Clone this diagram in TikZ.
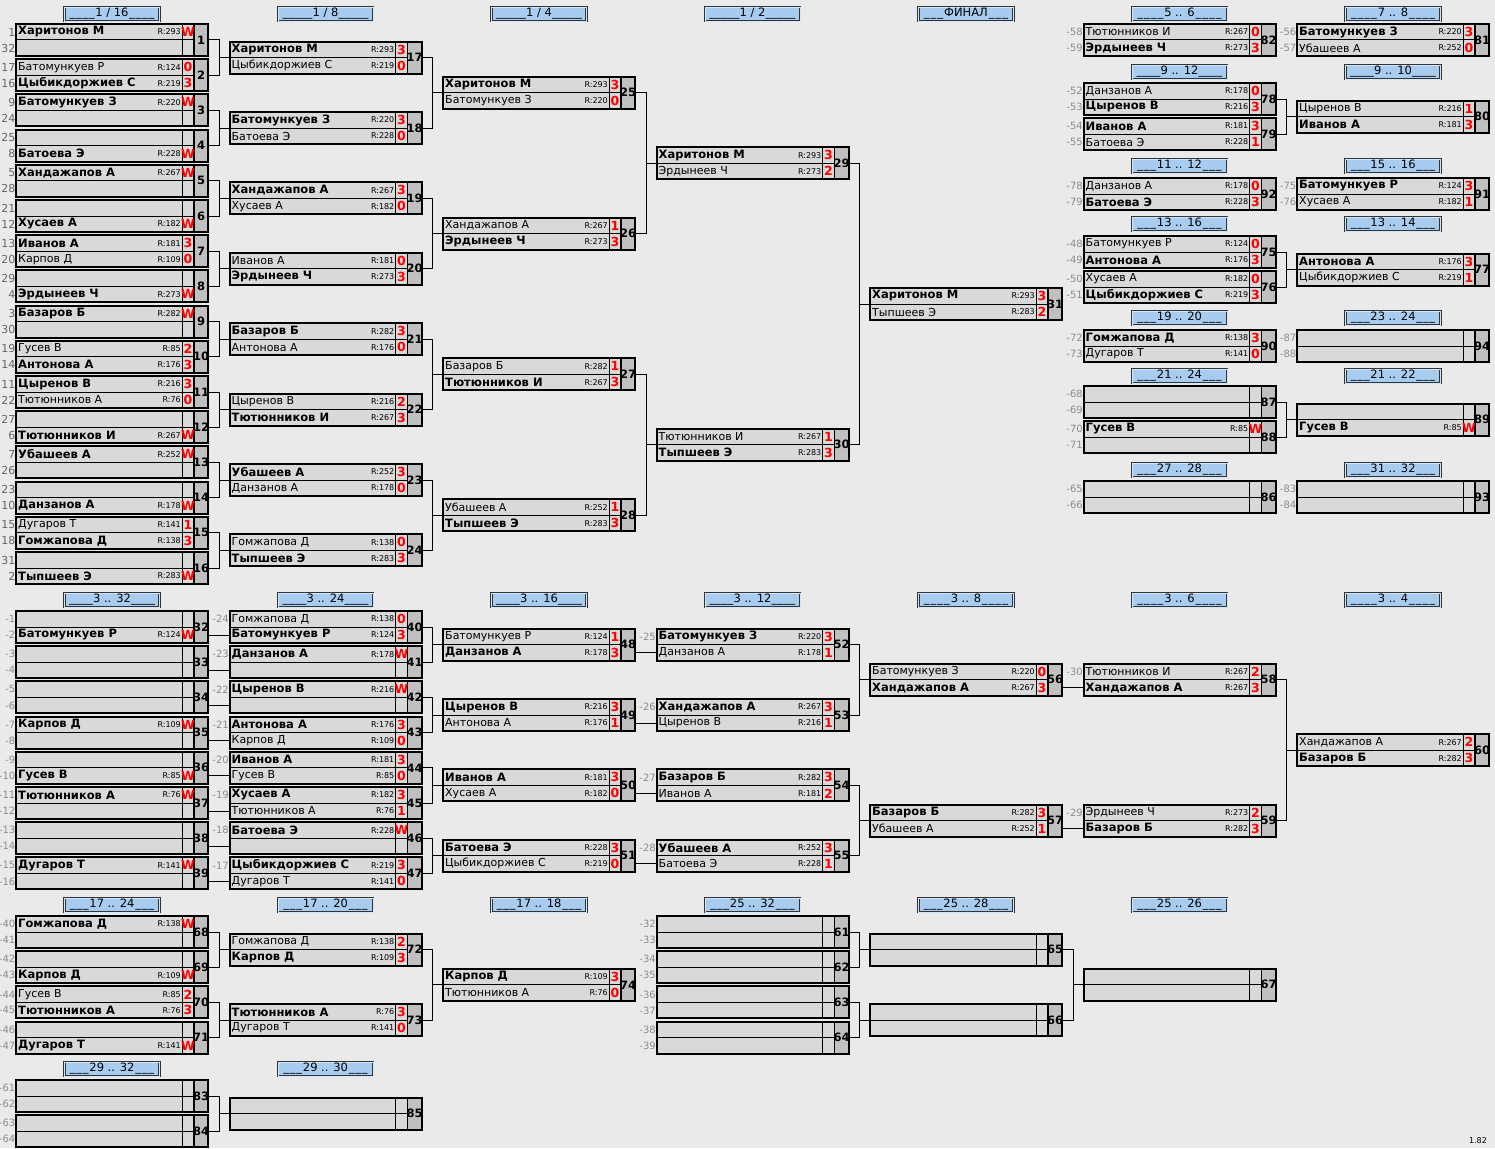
\documentclass[tikz,border=0pt]{standalone}
\usepackage{fontspec}
\setmainfont{DejaVu Sans}
\usepackage{tikz}

\definecolor{pagebg}{RGB}{234,234,234}
\definecolor{rowbg}{RGB}{217,217,217}
\definecolor{numbg}{RGB}{192,192,192}
\definecolor{headbg}{RGB}{168,204,240}

% one game box: name, left x, centre y, number
\newcommand{\duel}[4]{%
  \fill[rowbg] (#2,#3-16) rectangle ++(178,32);
  \fill[numbg] (#2+178,#3-16) rectangle ++(14,32);
  \draw[line width=1pt] (#2,#3) -- ++(178,0);
  \draw[line width=1pt] (#2+166,#3-16) -- ++(0,32);
  \draw[line width=1.6pt] (#2+178,#3-16) -- ++(0,32);
  \node[gamebox] (#1) at (#2+96,#3) {};
  \node[numlbl] (#1n) at (#2+185,#3) {#4};
  \coordinate (#1a) at (#2,#3-8);
  \coordinate (#1b) at (#2,#3+8);
}
% a player row: game, row, win/lose, name, rating, score
\newcommand{\player}[6]{%
  \node[pname,#3] (#1#2p) at ([xshift=2pt]#1#2) {#4};
  \node[prate] (#1#2r) at ([xshift=165pt]#1#2) {R:#5};
  \node[pscore] (#1#2s) at ([xshift=172pt]#1#2) {#6};
}
\newcommand{\seedno}[3]{\node[seedlbl] (#1#2l) at (#1#2) {#3};}
\newcommand{\seedsno}[3]{\seedno{#1}{a}{#2}\seedno{#1}{b}{#3}}
\newcommand{\stagehead}[4]{%
  \node[stagebox] (#1) at (#2,#3) {\makebox[86pt]{\xleaders\hbox{\_}\hfill#4\xleaders\hbox{\_}\hfill}};}
\newcommand{\joinpair}[3]{%
  \draw[link] (#1.east) -- ++(11,0) |- (#3.west);
  \draw[link] (#2.east) -- ++(11,0) |- (#3.west);}
\newcommand{\joinrow}[2]{\draw[link] (#1.east |- #2b) -- (#2b);}

\begin{document}
\begin{tikzpicture}[x=1pt,y=-1pt,
  gamebox/.style={draw,line width=2pt,minimum width=192pt,minimum height=32pt,inner sep=0pt,outer sep=0pt},
  numlbl/.style={inner sep=0pt,font=\bfseries\fontsize{11.5}{12}\selectfont},
  pname/.style={anchor=west,inner sep=0pt},
  win/.style={font=\bfseries\fontsize{11.5}{13}\selectfont},
  lose/.style={font=\fontsize{11}{13}\selectfont},
  prate/.style={anchor=east,inner sep=0pt,font=\fontsize{8}{9}\selectfont},
  pscore/.style={inner sep=0pt,text=red,font=\bfseries\fontsize{12.5}{13}\selectfont},
  seedlbl/.style={anchor=east,inner sep=0.5pt,text=black!45,font=\fontsize{10}{11}\selectfont},
  stagebox/.style={draw=black!80,double=headbg!50!white,double distance=0.8pt,line width=0.7pt,fill=headbg,
    minimum width=95pt,minimum height=14pt,inner sep=0pt,font=\fontsize{11.5}{12}\selectfont},
  link/.style={line width=1pt}]

  \fill[pagebg] (0,0) rectangle (1495,1148);
  \useasboundingbox (0,0) rectangle (1495,1148);

  % stage headers
  \stagehead{h1}{112}{14}{1 / 16}
  \stagehead{h2}{325.5}{14}{1 / 8}
  \stagehead{h3}{539}{14}{1 / 4}
  \stagehead{h4}{752.5}{14}{1 / 2}
  \stagehead{h5}{966}{14}{ФИНАЛ}
  \stagehead{h6}{1179.5}{14}{5 .. 6}
  \stagehead{h7}{1393}{14}{7 .. 8}
  \stagehead{h8}{1179.5}{72}{9 .. 12}
  \stagehead{h9}{1393}{72}{9 .. 10}
  \stagehead{h10}{1179.5}{166}{11 .. 12}
  \stagehead{h11}{1393}{166}{15 .. 16}
  \stagehead{h12}{1179.5}{224}{13 .. 16}
  \stagehead{h13}{1393}{224}{13 .. 14}
  \stagehead{h14}{1179.5}{318}{19 .. 20}
  \stagehead{h15}{1393}{318}{23 .. 24}
  \stagehead{h16}{1179.5}{376}{21 .. 24}
  \stagehead{h17}{1393}{376}{21 .. 22}
  \stagehead{h18}{1179.5}{470}{27 .. 28}
  \stagehead{h19}{1393}{470}{31 .. 32}
  \stagehead{h20}{112}{600}{3 .. 32}
  \stagehead{h21}{325.5}{600}{3 .. 24}
  \stagehead{h22}{539}{600}{3 .. 16}
  \stagehead{h23}{752.5}{600}{3 .. 12}
  \stagehead{h24}{966}{600}{3 .. 8}
  \stagehead{h25}{1179.5}{600}{3 .. 6}
  \stagehead{h26}{1393}{600}{3 .. 4}
  \stagehead{h27}{112}{905}{17 .. 24}
  \stagehead{h28}{325.5}{905}{17 .. 20}
  \stagehead{h29}{539}{905}{17 .. 18}
  \stagehead{h30}{752.5}{905}{25 .. 32}
  \stagehead{h31}{966}{905}{25 .. 28}
  \stagehead{h32}{1179.5}{905}{25 .. 26}
  \stagehead{h33}{112}{1069}{29 .. 32}
  \stagehead{h34}{325.5}{1069}{29 .. 30}

  % 1/16
  \begin{scope}[seedlbl/.append style={text=black!60,font=\fontsize{11}{12}\selectfont}]
  \duel{m1}{16}{40}{1} \seedsno{m1}{1}{32}
  \player{m1}{a}{win}{Харитонов М}{293}{W}
  \duel{m2}{16}{75.2}{2} \seedsno{m2}{17}{16}
  \player{m2}{a}{lose}{Батомункуев Р}{124}{0}
  \player{m2}{b}{win}{Цыбикдоржиев С}{219}{3}
  \duel{m3}{16}{110.4}{3} \seedsno{m3}{9}{24}
  \player{m3}{a}{win}{Батомункуев З}{220}{W}
  \duel{m4}{16}{145.6}{4} \seedsno{m4}{25}{8}
  \player{m4}{b}{win}{Батоева Э}{228}{W}
  \duel{m5}{16}{180.8}{5} \seedsno{m5}{5}{28}
  \player{m5}{a}{win}{Хандажапов А}{267}{W}
  \duel{m6}{16}{216}{6} \seedsno{m6}{21}{12}
  \player{m6}{b}{win}{Хусаев А}{182}{W}
  \duel{m7}{16}{251.2}{7} \seedsno{m7}{13}{20}
  \player{m7}{a}{win}{Иванов А}{181}{3}
  \player{m7}{b}{lose}{Карпов Д}{109}{0}
  \duel{m8}{16}{286.4}{8} \seedsno{m8}{29}{4}
  \player{m8}{b}{win}{Эрдынеев Ч}{273}{W}
  \duel{m9}{16}{321.6}{9} \seedsno{m9}{3}{30}
  \player{m9}{a}{win}{Базаров Б}{282}{W}
  \duel{m10}{16}{356.8}{10} \seedsno{m10}{19}{14}
  \player{m10}{a}{lose}{Гусев В}{85}{2}
  \player{m10}{b}{win}{Антонова А}{176}{3}
  \duel{m11}{16}{392}{11} \seedsno{m11}{11}{22}
  \player{m11}{a}{win}{Цыренов В}{216}{3}
  \player{m11}{b}{lose}{Тютюнников А}{76}{0}
  \duel{m12}{16}{427.2}{12} \seedsno{m12}{27}{6}
  \player{m12}{b}{win}{Тютюнников И}{267}{W}
  \duel{m13}{16}{462.4}{13} \seedsno{m13}{7}{26}
  \player{m13}{a}{win}{Убашеев А}{252}{W}
  \duel{m14}{16}{497.6}{14} \seedsno{m14}{23}{10}
  \player{m14}{b}{win}{Данзанов А}{178}{W}
  \duel{m15}{16}{532.8}{15} \seedsno{m15}{15}{18}
  \player{m15}{a}{lose}{Дугаров Т}{141}{1}
  \player{m15}{b}{win}{Гомжапова Д}{138}{3}
  \duel{m16}{16}{568}{16} \seedsno{m16}{31}{2}
  \player{m16}{b}{win}{Тыпшеев Э}{283}{W}
  \end{scope}

  % 1/8
  \duel{m17}{229.5}{57.6}{17}
  \player{m17}{a}{win}{Харитонов М}{293}{3}
  \player{m17}{b}{lose}{Цыбикдоржиев С}{219}{0}
  \duel{m18}{229.5}{128}{18}
  \player{m18}{a}{win}{Батомункуев З}{220}{3}
  \player{m18}{b}{lose}{Батоева Э}{228}{0}
  \duel{m19}{229.5}{198.4}{19}
  \player{m19}{a}{win}{Хандажапов А}{267}{3}
  \player{m19}{b}{lose}{Хусаев А}{182}{0}
  \duel{m20}{229.5}{268.8}{20}
  \player{m20}{a}{lose}{Иванов А}{181}{0}
  \player{m20}{b}{win}{Эрдынеев Ч}{273}{3}
  \duel{m21}{229.5}{339.2}{21}
  \player{m21}{a}{win}{Базаров Б}{282}{3}
  \player{m21}{b}{lose}{Антонова А}{176}{0}
  \duel{m22}{229.5}{409.6}{22}
  \player{m22}{a}{lose}{Цыренов В}{216}{2}
  \player{m22}{b}{win}{Тютюнников И}{267}{3}
  \duel{m23}{229.5}{480}{23}
  \player{m23}{a}{win}{Убашеев А}{252}{3}
  \player{m23}{b}{lose}{Данзанов А}{178}{0}
  \duel{m24}{229.5}{550.4}{24}
  \player{m24}{a}{lose}{Гомжапова Д}{138}{0}
  \player{m24}{b}{win}{Тыпшеев Э}{283}{3}

  % 1/4
  \duel{m25}{443}{92.8}{25}
  \player{m25}{a}{win}{Харитонов М}{293}{3}
  \player{m25}{b}{lose}{Батомункуев З}{220}{0}
  \duel{m26}{443}{233.6}{26}
  \player{m26}{a}{lose}{Хандажапов А}{267}{1}
  \player{m26}{b}{win}{Эрдынеев Ч}{273}{3}
  \duel{m27}{443}{374.4}{27}
  \player{m27}{a}{lose}{Базаров Б}{282}{1}
  \player{m27}{b}{win}{Тютюнников И}{267}{3}
  \duel{m28}{443}{515.2}{28}
  \player{m28}{a}{lose}{Убашеев А}{252}{1}
  \player{m28}{b}{win}{Тыпшеев Э}{283}{3}

  % 1/2 and final
  \duel{m29}{656.5}{163.2}{29}
  \player{m29}{a}{win}{Харитонов М}{293}{3}
  \player{m29}{b}{lose}{Эрдынеев Ч}{273}{2}
  \duel{m30}{656.5}{444.8}{30}
  \player{m30}{a}{lose}{Тютюнников И}{267}{1}
  \player{m30}{b}{win}{Тыпшеев Э}{283}{3}
  \duel{m31}{870}{304}{31}
  \player{m31}{a}{win}{Харитонов М}{293}{3}
  \player{m31}{b}{lose}{Тыпшеев Э}{283}{2}

  % places, upper right
  \duel{m82}{1083.5}{40}{82} \seedsno{m82}{-58}{-59}
  \player{m82}{a}{lose}{Тютюнников И}{267}{0}
  \player{m82}{b}{win}{Эрдынеев Ч}{273}{3}
  \duel{m81}{1297}{40}{81} \seedsno{m81}{-56}{-57}
  \player{m81}{a}{win}{Батомункуев З}{220}{3}
  \player{m81}{b}{lose}{Убашеев А}{252}{0}
  \duel{m78}{1083.5}{99}{78} \seedsno{m78}{-52}{-53}
  \player{m78}{a}{lose}{Данзанов А}{178}{0}
  \player{m78}{b}{win}{Цыренов В}{216}{3}
  \duel{m79}{1083.5}{134}{79} \seedsno{m79}{-54}{-55}
  \player{m79}{a}{win}{Иванов А}{181}{3}
  \player{m79}{b}{lose}{Батоева Э}{228}{1}
  \duel{m80}{1297}{116.5}{80}
  \player{m80}{a}{lose}{Цыренов В}{216}{1}
  \player{m80}{b}{win}{Иванов А}{181}{3}
  \duel{m92}{1083.5}{194}{92} \seedsno{m92}{-78}{-79}
  \player{m92}{a}{lose}{Данзанов А}{178}{0}
  \player{m92}{b}{win}{Батоева Э}{228}{3}
  \duel{m91}{1297}{194}{91} \seedsno{m91}{-75}{-76}
  \player{m91}{a}{win}{Батомункуев Р}{124}{3}
  \player{m91}{b}{lose}{Хусаев А}{182}{1}
  \duel{m75}{1083.5}{252}{75} \seedsno{m75}{-48}{-49}
  \player{m75}{a}{lose}{Батомункуев Р}{124}{0}
  \player{m75}{b}{win}{Антонова А}{176}{3}
  \duel{m76}{1083.5}{287}{76} \seedsno{m76}{-50}{-51}
  \player{m76}{a}{lose}{Хусаев А}{182}{0}
  \player{m76}{b}{win}{Цыбикдоржиев С}{219}{3}
  \duel{m77}{1297}{269.5}{77}
  \player{m77}{a}{win}{Антонова А}{176}{3}
  \player{m77}{b}{lose}{Цыбикдоржиев С}{219}{1}
  \duel{m90}{1083.5}{346}{90} \seedsno{m90}{-72}{-73}
  \player{m90}{a}{win}{Гомжапова Д}{138}{3}
  \player{m90}{b}{lose}{Дугаров Т}{141}{0}
  \duel{m94}{1297}{346}{94} \seedsno{m94}{-87}{-88}
  \duel{m87}{1083.5}{402}{87} \seedsno{m87}{-68}{-69}
  \duel{m88}{1083.5}{437}{88} \seedsno{m88}{-70}{-71}
  \player{m88}{a}{win}{Гусев В}{85}{W}
  \duel{m89}{1297}{419.5}{89}
  \player{m89}{b}{win}{Гусев В}{85}{W}
  \duel{m86}{1083.5}{497}{86} \seedsno{m86}{-65}{-66}
  \duel{m93}{1297}{497}{93} \seedsno{m93}{-83}{-84}

  % 3 .. 32
  \duel{m32}{16}{627}{32} \seedsno{m32}{-1}{-2}
  \player{m32}{b}{win}{Батомункуев Р}{124}{W}
  \duel{m33}{16}{662.2}{33} \seedsno{m33}{-3}{-4}
  \duel{m34}{16}{697.4}{34} \seedsno{m34}{-5}{-6}
  \duel{m35}{16}{732.6}{35} \seedsno{m35}{-7}{-8}
  \player{m35}{a}{win}{Карпов Д}{109}{W}
  \duel{m36}{16}{767.8}{36} \seedsno{m36}{-9}{-10}
  \player{m36}{b}{win}{Гусев В}{85}{W}
  \duel{m37}{16}{803}{37} \seedsno{m37}{-11}{-12}
  \player{m37}{a}{win}{Тютюнников А}{76}{W}
  \duel{m38}{16}{838.2}{38} \seedsno{m38}{-13}{-14}
  \duel{m39}{16}{873.4}{39} \seedsno{m39}{-15}{-16}
  \player{m39}{a}{win}{Дугаров Т}{141}{W}

  % 3 .. 24
  \duel{m40}{229.5}{627}{40} \seedno{m40}{a}{-24}
  \player{m40}{a}{lose}{Гомжапова Д}{138}{0}
  \player{m40}{b}{win}{Батомункуев Р}{124}{3}
  \duel{m41}{229.5}{662.2}{41} \seedno{m41}{a}{-23}
  \player{m41}{a}{win}{Данзанов А}{178}{W}
  \duel{m42}{229.5}{697.4}{42} \seedno{m42}{a}{-22}
  \player{m42}{a}{win}{Цыренов В}{216}{W}
  \duel{m43}{229.5}{732.6}{43} \seedno{m43}{a}{-21}
  \player{m43}{a}{win}{Антонова А}{176}{3}
  \player{m43}{b}{lose}{Карпов Д}{109}{0}
  \duel{m44}{229.5}{767.8}{44} \seedno{m44}{a}{-20}
  \player{m44}{a}{win}{Иванов А}{181}{3}
  \player{m44}{b}{lose}{Гусев В}{85}{0}
  \duel{m45}{229.5}{803}{45} \seedno{m45}{a}{-19}
  \player{m45}{a}{win}{Хусаев А}{182}{3}
  \player{m45}{b}{lose}{Тютюнников А}{76}{1}
  \duel{m46}{229.5}{838.2}{46} \seedno{m46}{a}{-18}
  \player{m46}{a}{win}{Батоева Э}{228}{W}
  \duel{m47}{229.5}{873.4}{47} \seedno{m47}{a}{-17}
  \player{m47}{a}{win}{Цыбикдоржиев С}{219}{3}
  \player{m47}{b}{lose}{Дугаров Т}{141}{0}

  % 3 .. 16
  \duel{m48}{443}{644.6}{48}
  \player{m48}{a}{lose}{Батомункуев Р}{124}{1}
  \player{m48}{b}{win}{Данзанов А}{178}{3}
  \duel{m49}{443}{715}{49}
  \player{m49}{a}{win}{Цыренов В}{216}{3}
  \player{m49}{b}{lose}{Антонова А}{176}{1}
  \duel{m50}{443}{785.4}{50}
  \player{m50}{a}{win}{Иванов А}{181}{3}
  \player{m50}{b}{lose}{Хусаев А}{182}{0}
  \duel{m51}{443}{855.8}{51}
  \player{m51}{a}{win}{Батоева Э}{228}{3}
  \player{m51}{b}{lose}{Цыбикдоржиев С}{219}{0}

  % 3 .. 12
  \duel{m52}{656.5}{644.6}{52} \seedno{m52}{a}{-25}
  \player{m52}{a}{win}{Батомункуев З}{220}{3}
  \player{m52}{b}{lose}{Данзанов А}{178}{1}
  \duel{m53}{656.5}{715}{53} \seedno{m53}{a}{-26}
  \player{m53}{a}{win}{Хандажапов А}{267}{3}
  \player{m53}{b}{lose}{Цыренов В}{216}{1}
  \duel{m54}{656.5}{785.4}{54} \seedno{m54}{a}{-27}
  \player{m54}{a}{win}{Базаров Б}{282}{3}
  \player{m54}{b}{lose}{Иванов А}{181}{2}
  \duel{m55}{656.5}{855.8}{55} \seedno{m55}{a}{-28}
  \player{m55}{a}{win}{Убашеев А}{252}{3}
  \player{m55}{b}{lose}{Батоева Э}{228}{1}

  % 3 .. 8, 3 .. 6, 3 .. 4
  \duel{m56}{870}{679.8}{56}
  \player{m56}{a}{lose}{Батомункуев З}{220}{0}
  \player{m56}{b}{win}{Хандажапов А}{267}{3}
  \duel{m57}{870}{820.6}{57}
  \player{m57}{a}{win}{Базаров Б}{282}{3}
  \player{m57}{b}{lose}{Убашеев А}{252}{1}
  \duel{m58}{1083.5}{679.8}{58} \seedno{m58}{a}{-30}
  \player{m58}{a}{lose}{Тютюнников И}{267}{2}
  \player{m58}{b}{win}{Хандажапов А}{267}{3}
  \duel{m59}{1083.5}{820.6}{59} \seedno{m59}{a}{-29}
  \player{m59}{a}{lose}{Эрдынеев Ч}{273}{2}
  \player{m59}{b}{win}{Базаров Б}{282}{3}
  \duel{m60}{1297}{750.2}{60}
  \player{m60}{a}{lose}{Хандажапов А}{267}{2}
  \player{m60}{b}{win}{Базаров Б}{282}{3}

  % 17 .. 24
  \duel{m68}{16}{932}{68} \seedsno{m68}{-40}{-41}
  \player{m68}{a}{win}{Гомжапова Д}{138}{W}
  \duel{m69}{16}{967.2}{69} \seedsno{m69}{-42}{-43}
  \player{m69}{b}{win}{Карпов Д}{109}{W}
  \duel{m70}{16}{1002.4}{70} \seedsno{m70}{-44}{-45}
  \player{m70}{a}{lose}{Гусев В}{85}{2}
  \player{m70}{b}{win}{Тютюнников А}{76}{3}
  \duel{m71}{16}{1037.6}{71} \seedsno{m71}{-46}{-47}
  \player{m71}{b}{win}{Дугаров Т}{141}{W}
  \duel{m72}{229.5}{949.6}{72}
  \player{m72}{a}{lose}{Гомжапова Д}{138}{2}
  \player{m72}{b}{win}{Карпов Д}{109}{3}
  \duel{m73}{229.5}{1020}{73}
  \player{m73}{a}{win}{Тютюнников А}{76}{3}
  \player{m73}{b}{lose}{Дугаров Т}{141}{0}
  \duel{m74}{443}{984.8}{74}
  \player{m74}{a}{win}{Карпов Д}{109}{3}
  \player{m74}{b}{lose}{Тютюнников А}{76}{0}

  % 25 .. 32
  \duel{m61}{656.5}{932}{61} \seedsno{m61}{-32}{-33}
  \duel{m62}{656.5}{967.2}{62} \seedsno{m62}{-34}{-35}
  \duel{m63}{656.5}{1002.4}{63} \seedsno{m63}{-36}{-37}
  \duel{m64}{656.5}{1037.6}{64} \seedsno{m64}{-38}{-39}
  \duel{m65}{870}{949.6}{65}
  \duel{m66}{870}{1020}{66}
  \duel{m67}{1083.5}{984.8}{67}

  % 29 .. 32
  \duel{m83}{16}{1096}{83} \seedsno{m83}{-61}{-62}
  \duel{m84}{16}{1131.2}{84} \seedsno{m84}{-63}{-64}
  \duel{m85}{229.5}{1113.6}{85}

  % connectors
  \joinpair{m1}{m2}{m17}   \joinpair{m3}{m4}{m18}
  \joinpair{m5}{m6}{m19}   \joinpair{m7}{m8}{m20}
  \joinpair{m9}{m10}{m21}  \joinpair{m11}{m12}{m22}
  \joinpair{m13}{m14}{m23} \joinpair{m15}{m16}{m24}
  \joinpair{m17}{m18}{m25} \joinpair{m19}{m20}{m26}
  \joinpair{m21}{m22}{m27} \joinpair{m23}{m24}{m28}
  \joinpair{m25}{m26}{m29} \joinpair{m27}{m28}{m30}
  \joinpair{m29}{m30}{m31}
  \joinpair{m78}{m79}{m80} \joinpair{m75}{m76}{m77}
  \joinpair{m87}{m88}{m89}

  \joinrow{m32}{m40} \joinrow{m33}{m41}
  \joinrow{m34}{m42} \joinrow{m35}{m43}
  \joinrow{m36}{m44} \joinrow{m37}{m45}
  \joinrow{m38}{m46} \joinrow{m39}{m47}
  \joinpair{m40}{m41}{m48} \joinpair{m42}{m43}{m49}
  \joinpair{m44}{m45}{m50} \joinpair{m46}{m47}{m51}
  \joinrow{m48}{m52} \joinrow{m49}{m53}
  \joinrow{m50}{m54} \joinrow{m51}{m55}
  \joinpair{m52}{m53}{m56} \joinpair{m54}{m55}{m57}
  \joinrow{m56}{m58} \joinrow{m57}{m59}
  \joinpair{m58}{m59}{m60}

  \joinpair{m68}{m69}{m72} \joinpair{m70}{m71}{m73}
  \joinpair{m72}{m73}{m74}
  \joinpair{m61}{m62}{m65} \joinpair{m63}{m64}{m66}
  \joinpair{m65}{m66}{m67}
  \joinpair{m83}{m84}{m85}

  \node[font=\fontsize{8}{9}\selectfont,inner sep=0pt] (ver) at (1478,1141) {1.82};
\end{tikzpicture}
\end{document}
